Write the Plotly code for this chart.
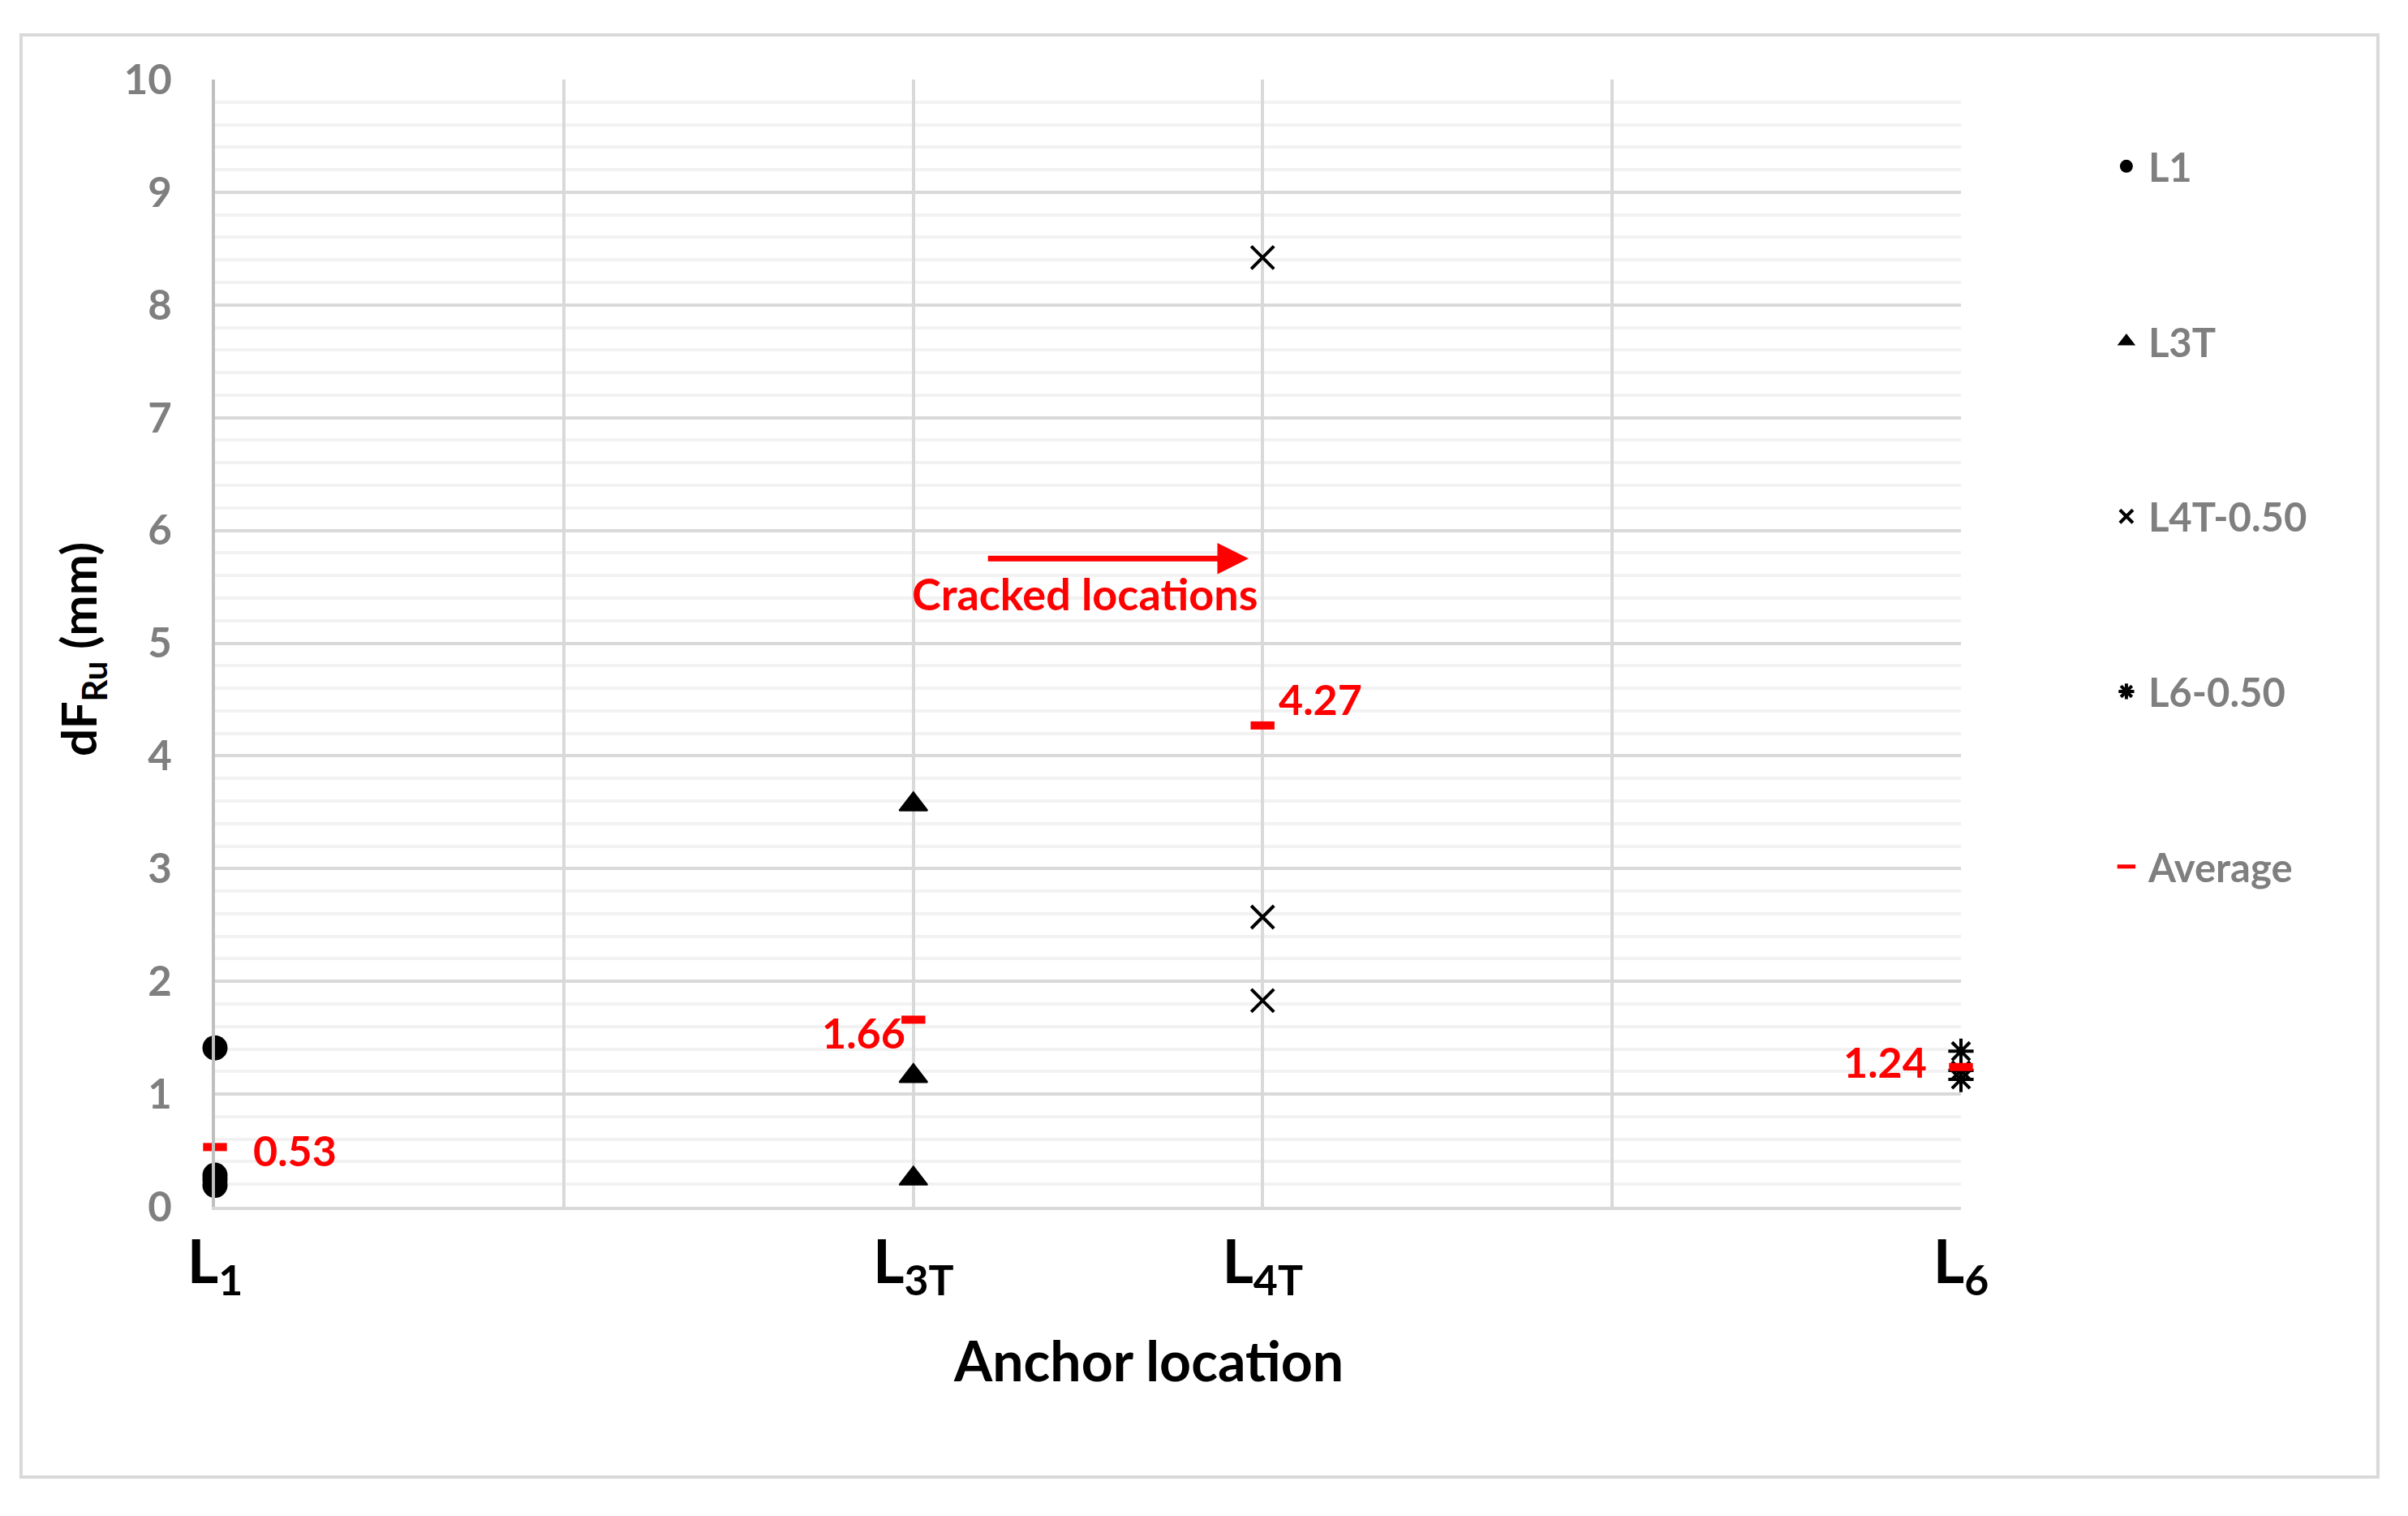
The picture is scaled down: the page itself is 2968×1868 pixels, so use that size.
import plotly.graph_objects as go

# ---------------- data ----------------
loc_names = ["L<sub>1</sub>", "", "L<sub>3T</sub>", "L<sub>4T</sub>", "", "L<sub>6</sub>"]
loc_pos = [0, 1, 2, 3, 4, 5]

l1_x = [0, 0, 0, 0]
l1_y = [1.41, 0.28, 0.24, 0.19]

l3t_x = [2, 2, 2]
l3t_y = [3.57, 1.16, 0.25]

l4t_x = [3, 3, 3]
l4t_y = [8.42, 2.57, 1.83]

l6_x = [5, 5, 5]
l6_y = [1.38, 1.21, 1.13]

avg_x = [0, 2, 3, 5]
avg_y = [0.53, 1.66, 4.27, 1.24]

arrow_x0, arrow_x1, arrow_y = 2.21, 2.96, 5.75
arrow_label = "Cracked locations"
arrow_label_x, arrow_label_y = 2.49, 5.44

FONT = "Lato"
GRAY = "#7f7f7f"
RED = "#ff0000"

fig = go.Figure()

common = dict(mode="markers", cliponaxis=False)
fig.add_trace(go.Scatter(x=l1_x, y=l1_y, name="L1", legendgroup="a",
                         marker=dict(symbol="circle", size=31, color="black"), **common))
fig.add_trace(go.Scatter(x=l3t_x, y=l3t_y, name="L3T", legendgroup="b",
                         marker=dict(symbol="triangle-up", size=30, color="black",
                                     line=dict(color="black", width=2)), **common))
fig.add_trace(go.Scatter(x=l4t_x, y=l4t_y, name="L4T-0.50", legendgroup="c",
                         marker=dict(symbol="x-thin-open", size=28, color="black",
                                     line=dict(color="black", width=4)), **common))
fig.add_trace(go.Scatter(x=l6_x, y=l6_y, name="L6-0.50", legendgroup="d",
                         marker=dict(symbol="asterisk-open", size=26, color="black",
                                     line=dict(color="black", width=4)), **common))
fig.add_trace(go.Scatter(x=avg_x, y=avg_y, name="Average", legendgroup="e",
                         marker=dict(symbol="line-ew-open", size=21, color=RED,
                                     line=dict(color=RED, width=10)), **common))

# average value labels: (xanchor, xshift, yshift)
label_pos = [("left", 45, -4), ("right", -8, -16), ("left", 18, 33), ("right", -40, 7)]
for xv, yv, (xa, xs, ys) in zip(avg_x, avg_y, label_pos):
    fig.add_annotation(x=xv, y=yv, text=f"{yv:.2f}", showarrow=False,
                       xanchor=xa, yanchor="middle", xshift=xs, yshift=ys,
                       font=dict(family=FONT, size=52, color=RED, weight="bold"))

# cracked locations arrow + label
fig.add_annotation(x=arrow_x1, y=arrow_y, ax=arrow_x0, ay=arrow_y,
                   xref="x", yref="y", axref="x", ayref="y", text="",
                   showarrow=True, arrowhead=2, arrowsize=1.1, arrowwidth=7,
                   arrowcolor=RED, standoff=0, startstandoff=0)
fig.add_annotation(x=arrow_label_x, y=arrow_label_y, text=arrow_label, showarrow=False,
                   xanchor="center", yanchor="middle",
                   font=dict(family=FONT, size=54, color=RED, weight="bold"))

# axis titles
fig.add_annotation(x=0.5344, y=-0.136, xref="paper", yref="paper",
                   text="Anchor location", showarrow=False,
                   xanchor="center", yanchor="middle",
                   font=dict(family=FONT, size=68, color="black", weight="bold"))
fig.add_annotation(x=-0.0767, y=0.4946, xref="paper", yref="paper",
                   text="dF<sub>Ru</sub> (mm)", showarrow=False, textangle=-90,
                   xanchor="center", yanchor="middle",
                   font=dict(family=FONT, size=60, color="black", weight="bold"))

# outer chart border
fig.add_shape(type="rect", xref="paper", yref="paper",
              x0=-0.1111, x1=1.2388, y0=-0.2397, y1=1.0396,
              line=dict(color="#d9d9d9", width=4), fillcolor="rgba(0,0,0,0)")

fig.update_layout(
    width=2952, height=1852,
    margin=dict(l=257, r=543, t=90, b=373, pad=0),
    paper_bgcolor="white", plot_bgcolor="white",
    font=dict(family=FONT),
    showlegend=True,
    legend=dict(x=1.0822, y=0.9507, xanchor="left", yanchor="top",
                font=dict(family=FONT, size=49, color=GRAY, weight="bold"),
                tracegroupgap=149, itemsizing="trace", itemwidth=44,
                bgcolor="rgba(0,0,0,0)"),
)

fig.update_xaxes(
    range=[0, 5], tickmode="array", tickvals=loc_pos, ticktext=loc_names,
    showgrid=True, gridcolor="#d9d9d9", gridwidth=4,
    showline=True, linecolor="#d9d9d9", linewidth=4,
    ticks="", zeroline=False, ticklabelstandoff=1,
    tickfont=dict(family=FONT, size=74, color="black", weight="bold"),
)
fig.update_yaxes(
    range=[0, 10], dtick=1, tick0=0,
    showgrid=True, gridcolor="#d9d9d9", gridwidth=4,
    minor=dict(dtick=0.2, showgrid=True, gridcolor="#f2f2f2", gridwidth=4, ticks=""),
    showline=True, linecolor="#bfbfbf", linewidth=4,
    ticks="", zeroline=False, ticklabelstandoff=39,
    tickfont=dict(family=FONT, size=51, color=GRAY, weight="bold"),
)

fig.write_html("out.html")
